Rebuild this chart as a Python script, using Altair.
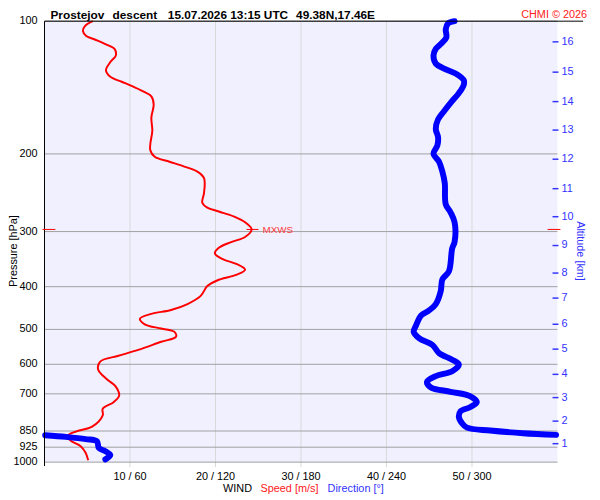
import altair as alt
import pandas as pd

# ---- data ----
speed_p = [100, 102.6, 105.3, 108.0, 110.2, 112.7, 115.6, 119.6, 123.8, 129.2, 133.7, 137.2,
           140.2, 144.3, 148.1, 154.5, 165.5, 177.2, 189.7, 196.3, 203.0, 208.3, 213.7, 219.3,
           227.0, 245.1, 258.0, 264.7, 270.2, 277.2, 285.8, 296.7, 308.6, 316.6, 326.5, 336.2,
           346.0, 355.7, 366.0, 375.6, 387.3, 398.8, 419.8, 438.0, 451.7, 461.1, 472.9, 486.9,
           497.7, 506.5, 519.6, 533.4, 556.5, 573.9, 590.9, 616.5, 648.8, 671.5, 706.8, 731.1,
           756.7, 783.1, 830.9, 852.4, 871.9, 894.5, 920.5, 952.6, 990.8]
speed_ms = [5.65, 4.73, 4.50, 4.88, 5.97, 7.12, 8.19, 8.34, 7.70, 7.19, 7.70, 9.03,
            10.19, 11.54, 12.50, 12.77, 12.50, 12.61, 12.38, 12.38, 12.89, 14.62, 16.35, 17.88,
            18.66, 18.66, 18.46, 19.04, 20.39, 22.12, 23.46, 24.23, 23.46, 21.92, 20.39, 19.93,
            20.77, 22.50, 23.46, 22.50, 20.19, 19.04, 18.27, 16.73, 14.80, 12.50, 11.16, 11.73,
            13.65, 15.20, 15.38, 13.65, 10.96, 8.65, 6.54, 6.27, 7.30, 8.27, 8.73, 8.08,
            6.81, 6.81, 5.57, 3.66, 2.69, 3.08, 4.23, 4.81, 5.11]

dir_p = [100, 101.2, 104.3, 108.9, 112.7, 115.6, 119.6, 124.8, 128.1, 131.4, 136.0, 139.5,
         145.6, 153.2, 160.0, 167.0, 175.7, 183.3, 191.4, 199.7, 208.3, 219.3, 232.8, 260.2,
         271.5, 285.8, 316.6, 327.7, 369.3, 385.3, 409.1, 438.0, 453.3, 464.9, 489.4, 506.5,
         524.0, 542.3, 565.9, 585.7, 600.9, 621.9, 638.0, 657.9, 677.0, 692.5, 709.0, 731.1,
         750.1, 767.2, 789.6, 817.0, 835.1, 848.0, 859.8, 867.4, 868.7, 876.3, 886.7, 897.2,
         928.5, 944.3, 963.8, 985.8]
dir_deg = [287.8, 283.2, 281.6, 282.0, 278.1, 274.6, 273.0, 274.6, 280.4, 288.5, 294.2, 294.2,
           290.8, 285.0, 280.4, 276.2, 274.6, 276.2, 275.7, 273.0, 276.9, 279.2, 280.9, 281.6,
           285.0, 287.8, 287.8, 286.1, 283.8, 279.2, 278.1, 274.6, 269.7, 264.3, 260.8, 259.1,
           263.1, 272.3, 276.9, 286.1, 290.8, 286.1, 274.6, 268.4, 271.2, 285.0, 298.9, 303.4,
           298.9, 291.9, 290.8, 293.1, 296.5, 312.7, 335.8, 359.0, 0.5, 15.0, 28.9, 36.9,
           38.1, 42.7, 46.2, 42.7]

alt_km = [16, 15, 14, 13, 12, 11, 10, 9, 8, 7, 6, 5, 4, 3, 2, 1]
alt_p = [111.4, 130.5, 152.2, 176.6, 205.6, 239.8, 277.6, 322.7, 372.6, 424.6, 486.8,
         554.3, 632.3, 713.9, 807.2, 908.1]

pressure_ticks = [100, 200, 300, 400, 500, 600, 700, 850, 925, 1000]
speed_ticks = [10, 20, 30, 40, 50]
dir_ticks = [60, 120, 180, 240, 300]

title_parts = ["Prostejov", "descent", "15.07.2026 13:15 UTC", "49.38N,17.46E"]
credit = "CHMI \u00a9 2026"

# ---- styling ----
W, H = 520, 447
FONT = "Liberation Sans"
RED = "#ff0000"
BLUE = "#0000ff"
LBLUE = "#3333ff"
FS = 11

assert len(speed_p) == len(speed_ms)
assert len(dir_p) == len(dir_deg)

speed_df = pd.DataFrame({"p": speed_p, "speed": speed_ms, "i": range(len(speed_p))})
seg, s = [], 0
for k, d in enumerate(dir_deg):
    if k and abs(d - dir_deg[k - 1]) > 180:
        s += 1
    seg.append(s)
dir_df = pd.DataFrame({"p": dir_p, "dir": dir_deg, "seg": seg, "i": range(len(dir_p))})
mx = speed_df.loc[speed_df["speed"].idxmax()]
mx_df = pd.DataFrame({"p": [mx["p"]], "speed": [mx["speed"]], "label": ["MXWS"]})
alt_df = pd.DataFrame({"p": alt_p, "km": [str(k) for k in alt_km]})
pt_df = pd.DataFrame({"p": pressure_ticks, "t": [str(v) for v in pressure_ticks]})
st_df = pd.DataFrame({"speed": speed_ticks,
                      "t": [f"{a} / {b}" for a, b in zip(speed_ticks, dir_ticks)]})
one = pd.DataFrame({"a": [0]})

yscale = alt.Scale(type="log", domain=[100, 1000], reverse=True, nice=False)
xscale = alt.Scale(domain=[0, 60], nice=False, zero=False)
Y = alt.Y("p:Q", scale=yscale, axis=None)

# grid + axis labels drawn through the scales
vgrid = alt.Chart(st_df).mark_rule(color="#d8d8d8", strokeWidth=1).encode(
    x=alt.X("speed:Q", scale=xscale, axis=None), y=alt.value(0), y2=alt.value(H + 5))
hgrid = alt.Chart(pt_df).mark_rule(color="#a0a0a0", strokeWidth=1).encode(
    y=Y, x=alt.value(0), x2=alt.value(W))
ylabels = alt.Chart(pt_df).mark_text(
    align="right", baseline="middle", fontSize=FS, font=FONT, color="black"
).encode(y=Y, x=alt.value(-7), text="t:N")
xlabels = alt.Chart(st_df).mark_text(
    align="center", baseline="middle", fontSize=FS, font=FONT, color="black"
).encode(x=alt.X("speed:Q", scale=xscale, axis=None), y=alt.value(H + 15), text="t:N")
ytitle = alt.Chart(one).mark_text(
    angle=270, align="center", baseline="middle", fontSize=FS, font=FONT, color="black",
    text="Pressure [hPa]").encode(x=alt.value(-31), y=alt.value(233))

speed_line = alt.Chart(speed_df).mark_line(
    color=RED, strokeWidth=2, strokeJoin="round", interpolate="catmull-rom"
).encode(x=alt.X("speed:Q", scale=xscale, axis=None), y=Y, order="i:Q")

dir_line = alt.Chart(dir_df).transform_calculate(xs="datum.dir / 6").mark_line(
    color=BLUE, strokeWidth=6, strokeCap="round", strokeJoin="round",
    interpolate="catmull-rom"
).encode(x=alt.X("xs:Q", scale=xscale, axis=None), y=Y, detail="seg:N", order="i:Q")

mx_tick = alt.Chart(mx_df).transform_calculate(
    xa="datum.speed - 0.6", xb="datum.speed + 0.8"
).mark_rule(color=RED, strokeWidth=1).encode(
    x=alt.X("xa:Q", scale=xscale, axis=None), x2="xb:Q", y=Y)
mx_left = alt.Chart(mx_df).mark_rule(color=RED, strokeWidth=1).encode(
    x=alt.value(-2), x2=alt.value(11), y=Y)
mx_right = alt.Chart(mx_df).mark_rule(color=RED, strokeWidth=1).encode(
    x=alt.value(510), x2=alt.value(523), y=Y)
mx_text = alt.Chart(mx_df).mark_text(
    align="left", baseline="middle", dx=11, dy=1, color="#ff3a3a", fontSize=10, font=FONT
).encode(x=alt.X("speed:Q", scale=xscale, axis=None), y=Y, text="label:N")

alt_ticks = alt.Chart(alt_df).mark_rule(color=LBLUE, strokeWidth=1.5).encode(
    x=alt.value(515), x2=alt.value(521), y=Y)
alt_labels = alt.Chart(alt_df).mark_text(
    align="left", baseline="middle", color=LBLUE, fontSize=FS, font=FONT
).encode(x=alt.value(524), y=Y, text="km:N")
alt_title = alt.Chart(one).mark_text(
    angle=90, align="center", baseline="middle", color=LBLUE, fontSize=FS, font=FONT,
    text="Altitude [km]").encode(x=alt.value(543), y=alt.value(233))

top_line = alt.Chart(one).mark_rule(color="black", strokeWidth=1).encode(
    x=alt.value(0), x2=alt.value(546), y=alt.value(0))
left_line = alt.Chart(one).mark_rule(color="black", strokeWidth=1).encode(
    x=alt.value(0), y=alt.value(0), y2=alt.value(H + 4))


def label(txt, x, y, color="black", size=FS, weight="normal", align="left"):
    return alt.Chart(one).mark_text(
        text=txt, align=align, baseline="alphabetic", color=color, fontSize=size,
        fontWeight=weight, font=FONT).encode(x=alt.value(x), y=alt.value(y))


title_x = [6, 69, 125, 255]
titles = [label(t, x, -2, size=12, weight="bold") for t, x in zip(title_parts, title_x)]
credit_t = label(credit, 550, -3, color="#ff2020", align="right")
wind = label("WIND", 181, 477)
spd = label("Speed [m/s]", 219, 477, color="#ff2020")
drc = label("Direction [\u00b0]", 287, 477, color=LBLUE)

chart = alt.layer(
    vgrid, hgrid, ylabels, xlabels, ytitle,
    speed_line, dir_line, top_line, left_line,
    mx_tick, mx_left, mx_right, mx_text,
    alt_ticks, alt_labels, alt_title,
    *titles, credit_t, wind, spd, drc,
).properties(
    width=W, height=H,
    background="white",
    autosize=alt.AutoSizeParams(type="none"),
    padding={"left": 37, "top": 10, "right": 35, "bottom": 33},
).configure_view(fill="#f0f0ff", strokeWidth=0)

chart.save("out.html", embed_options={"renderer": "svg", "actions": False})
